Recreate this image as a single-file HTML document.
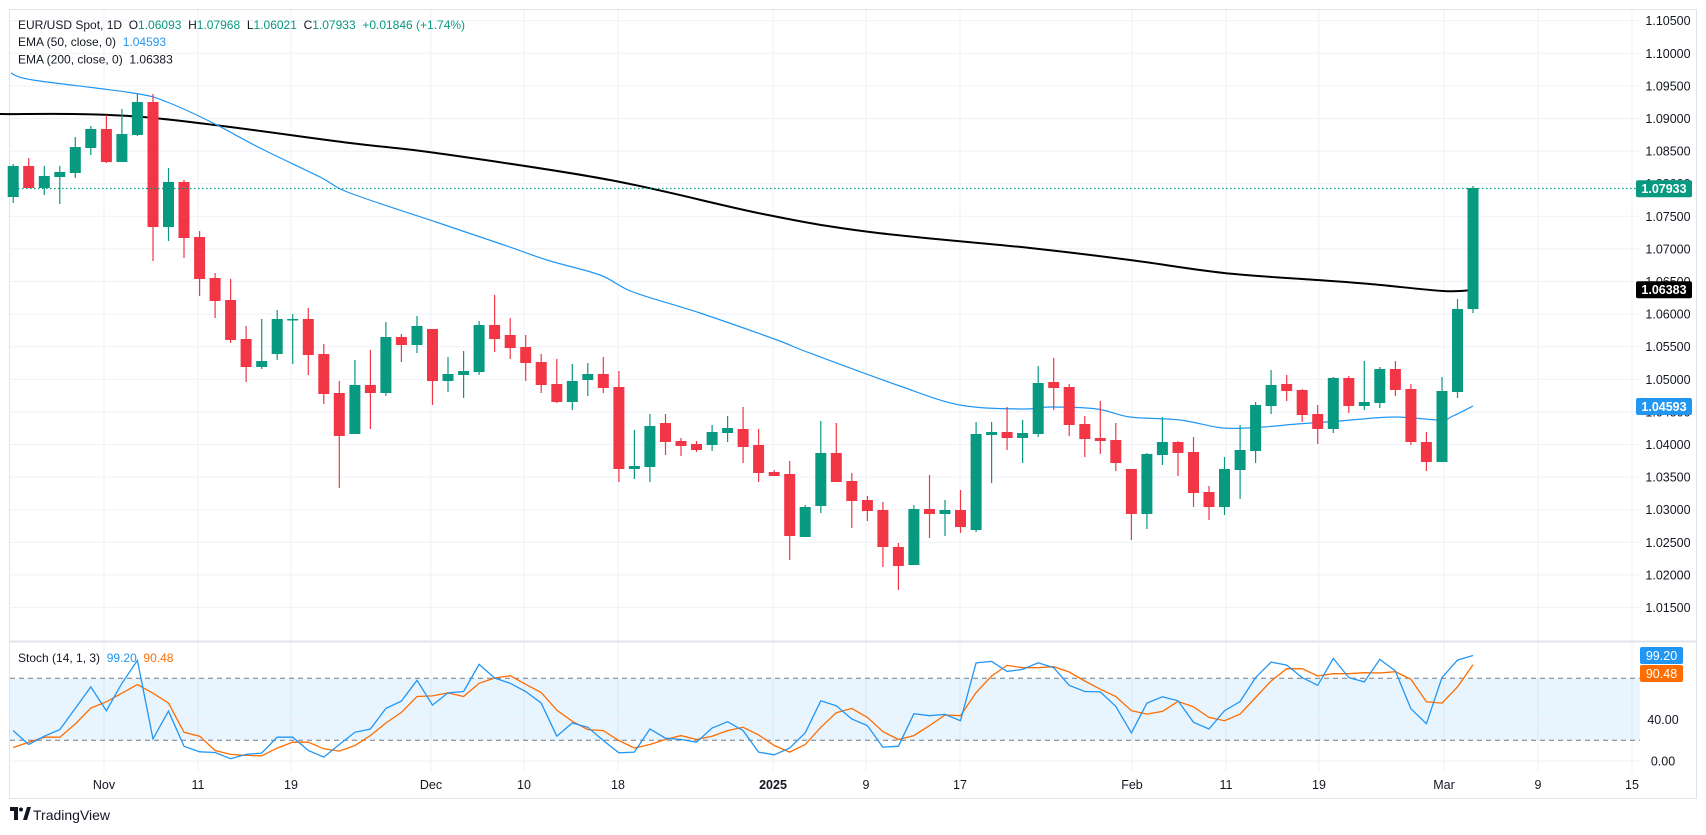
<!DOCTYPE html>
<html><head><meta charset="utf-8">
<style>
html,body{margin:0;padding:0;background:#fff;}
svg{display:block;font-family:"Liberation Sans",sans-serif;}
</style></head>
<body>
<svg id="c" width="1706" height="835" xmlns="http://www.w3.org/2000/svg"></svg>
<script>
const S=document.getElementById('c');
let h='';
const PL=10, PR=1640;
function yp(p){return 379.3+(1.05-p)*6520;}
function smooth(pts){let d=`M${pts[0][0]},${pts[0][1]}`;for(let i=0;i<pts.length-1;i++){const p0=pts[i-1]||pts[i],p1=pts[i],p2=pts[i+1],p3=pts[i+2]||p2;
const c1=[p1[0]+(p2[0]-p0[0])/6,p1[1]+(p2[1]-p0[1])/6],c2=[p2[0]-(p3[0]-p1[0])/6,p2[1]-(p3[1]-p1[1])/6];
d+=` C${c1[0].toFixed(1)},${c1[1].toFixed(1)} ${c2[0].toFixed(1)},${c2[1].toFixed(1)} ${p2[0]},${p2[1]}`;}return d;}
h+=`<rect x="9.5" y="9.5" width="1687" height="789" fill="#fff" stroke="#e0e3eb"/>`;
for(let k=0;k<=19;k++){const p=1.105-k*0.005;const y=yp(p);if(y>640)continue;
h+=`<line x1="${PL}" x2="${PR}" y1="${y.toFixed(1)}" y2="${y.toFixed(1)}" stroke="#f0f3fa" stroke-width="1.2"/>`;
h+=`<text x="1668" y="${(y+4.5).toFixed(1)}" font-size="12.5" fill="#131722" text-anchor="middle">${p.toFixed(5)}</text>`;}
const dates=[[104,'Nov'],[198,'11'],[291,'19'],[431,'Dec'],[524,'10'],[618,'18'],[773,'2025'],[866,'9'],[960,'17'],[1132,'Feb'],[1226,'11'],[1319,'19'],[1444,'Mar'],[1538,'9'],[1632,'15']];
dates.forEach(([x,t])=>{h+=`<line x1="${x}" x2="${x}" y1="10" y2="772" stroke="#f0f3fa" stroke-width="1.2"/>`;
h+=`<text x="${x}" y="789" font-size="12.5" fill="#131722" text-anchor="middle"${t=='2025'?' font-weight="bold"':''}>${t}</text>`;});
h+=`<line x1="10" x2="1696" y1="641.5" y2="641.5" stroke="#e0e3eb" stroke-width="2"/>`;
const e200=[[0,114],[143,117],[350,143],[436,153],[610,180],[763,214],[870,232],[1030,248],[1130,260],[1224,273],[1317,280],[1370,284],[1443,291],[1473,290]];
h+=`<path d="${smooth(e200)}" fill="none" stroke="#000" stroke-width="2"/>`;
const e50=[[11,73],[33,80],[133,93],[167,102],[213,123],[260,148],[320,177],[350,193],[436,222],[501,244],[547,260],[600,275],[633,292],[700,313],[777,340],[807,352],[897,385],[960,405],[1023,409],[1050,407],[1097,409],[1130,417],[1180,420],[1223,428],[1263,427],[1297,424],[1340,421],[1393,417],[1440,420],[1453,416],[1473,406]];
h+=`<path d="${smooth(e50)}" fill="none" stroke="#2196f3" stroke-width="1.2"/>`;
const C=`g 166,197,164,203
r 166,188,158,188
g 176,188,166,195
g 172,177,166,204
g 147,173,137,178
g 129,148,126,155
r 129,162,115,163
g 134,162,109,162
g 102,135,94,136
r 102,227,94,261
g 182,227,168,241
r 182,238,180,258
r 237,279,231,296
r 278,301,273,318
r 300,340,279,343
r 339,367,326,382
g 361,367,319,369
g 319,354,310,360
g 319,320,314,364
r 319,355,308,375
r 354,394,344,404
r 393,436,381,488
g 385,434,360,434
r 385,393,350,429
g 337,393,322,396
r 337,345,334,362
g 326,345,316,353
r 329,381,329,405
g 374,381,357,392
g 371,375,351,398
g 325,372,321,375
r 325,339,295,352
r 335,348,318,359
r 347,363,335,381
r 362,385,354,393
r 384,402,359,403
g 381,402,364,410
g 374,380,363,396
r 374,388,357,393
r 387,469,371,482
g 466,469,430,479
g 426,467,414,482
r 423,442,414,455
r 441,446,438,456
r 444,450,441,452
g 432,445,425,451
g 428,433,416,442
r 429,447,407,463
r 445,473,429,482
r 472,476,470,476
r 474,536,461,560
g 507,537,505,537
g 453,506,421,513
r 453,482,423,482
r 481,501,473,528
r 500,511,496,521
r 510,547,502,567
r 547,566,543,590
g 509,565,505,565
r 509,514,475,538
g 510,514,500,536
r 510,527,490,533
g 434,530,422,532
g 432,435,422,483
r 432,438,407,450
g 433,438,420,463
g 383,434,366,437
r 382,388,358,410
r 387,425,384,436
r 424,439,416,457
r 438,441,401,454
r 440,463,423,471
r 469,514,469,540
g 454,514,453,529
g 442,455,417,465
r 442,453,441,476
r 452,493,437,507
r 492,507,486,520
g 469,507,457,515
g 450,470,425,499
g 405,451,402,463
g 385,406,370,414
r 384,391,375,401
r 390,415,389,422
r 414,429,405,444
g 378,429,377,433
r 378,406,376,413
g 402,406,361,410
g 369,403,367,408
r 369,390,361,396
r 389,442,384,445
r 442,462,432,471
g 391,462,377,462
g 309,392,299,398
g 188,309,186,313`.split('\n');
function X(i){return 13.2+i*15.53;}
C.forEach((l,i)=>{const c=l[0]=='g'?'#089981':'#f23645';const [t,b,wt,wb]=l.slice(2).split(',').map(Number);const x=X(i);
h+=`<line x1="${x.toFixed(1)}" x2="${x.toFixed(1)}" y1="${wt}" y2="${wb}" stroke="${c}" stroke-width="1.2"/>`;
h+=`<rect x="${(x-5.5).toFixed(1)}" y="${t}" width="11" height="${Math.max(1.5,b-t)}" fill="${c}"/>`;});
h+=`<line x1="10" x2="1636" y1="188.5" y2="188.5" stroke="#089981" stroke-width="1.2" stroke-dasharray="1.5,2.5"/>`;
function lab(y,bg,t,w){h+=`<rect x="1636" y="${y-8.5}" width="${w||56}" height="17" rx="2" fill="${bg}"/><text x="1664" y="${y+4.5}" font-size="12.5" font-weight="bold" fill="#fff" text-anchor="middle">${t}</text>`;}
lab(188.7,'#089981','1.07933');lab(289.7,'#000','1.06383');lab(406.5,'#2196f3','1.04593');
function ys(v){return 761-v*1.035;}
h+=`<rect x="10" y="${ys(80)}" width="1630" height="${ys(20)-ys(80)}" fill="#2196f3" fill-opacity="0.1"/>`;
[0,40].forEach(v=>{h+=`<line x1="10" x2="1640" y1="${ys(v)}" y2="${ys(v)}" stroke="#f0f3fa" stroke-width="1.2"/>`;
h+=`<text x="1663" y="${ys(v)+4.5}" font-size="12.5" fill="#131722" text-anchor="middle">${v.toFixed(2)}</text>`;});
[80,20].forEach(v=>{h+=`<line x1="10" x2="1640" y1="${ys(v)}" y2="${ys(v)}" stroke="#787b86" stroke-width="1" stroke-dasharray="5,4"/>`;});
const K=[455,497,472,452,388,323,395,312,243,480,396,502,519,521,540,527,523,475,475,515,535,497,460,450,388,366,303,378,341,337,255,296,312,337,372,472,432,445,485,522,520,450,478,482,490,447,428,455,520,528,508,462,365,380,
420,440,505,502,404,410,406,425,250,246,276,270,250,265,318,337,338,382,462,372,353,365,430,450,395,367,295,248,257,295,318,237,295,308,240,275,389,434,295,242,228];
const D=[506,490,475,475,435,387,368,342,316,342,372,460,472,515,527,530,531,508,490,490,510,517,500,470,432,400,352,350,341,352,312,296,289,315,340,393,427,452,455,485,508,497,482,470,482,472,455,445,468,500,520,497,445,401,
388,415,458,482,470,440,408,410,340,290,258,265,265,262,278,305,330,352,395,405,397,367,383,415,425,405,355,305,268,268,290,283,283,280,281,277,300,368,372,323,256];
function pl(a,c){return `<polyline points="${a.map((z,i)=>X(i).toFixed(1)+','+(580+z*0.331).toFixed(1)).join(' ')}" fill="none" stroke="${c}" stroke-width="1.3"/>`;}
h+=pl(D,'#ff6d00');h+=pl(K,'#2196f3');
h+=`<rect x="1640" y="647" width="43" height="17" rx="2" fill="#2196f3"/><text x="1661.5" y="660" font-size="12.5" fill="#fff" text-anchor="middle">99.20</text>`;
h+=`<rect x="1640" y="665" width="43" height="17" rx="2" fill="#ff6d00"/><text x="1661.5" y="678" font-size="12.5" fill="#fff" text-anchor="middle">90.48</text>`;
h+=`<text x="18" y="662" font-size="12" fill="#131722" xml:space="preserve">Stoch (14, 1, 3)  <tspan fill="#2196f3">99.20</tspan>  <tspan fill="#ff6d00">90.48</tspan></text>`;
h+=`<text x="18" y="29" font-size="12" fill="#131722" xml:space="preserve">EUR/USD Spot, 1D  O<tspan fill="#089981">1.06093</tspan>  H<tspan fill="#089981">1.07968</tspan>  L<tspan fill="#089981">1.06021</tspan>  C<tspan fill="#089981">1.07933</tspan>  <tspan fill="#089981">+0.01846 (+1.74%)</tspan></text>`;
h+=`<text x="18" y="46" font-size="12" fill="#131722" xml:space="preserve">EMA (50, close, 0)  <tspan fill="#2196f3">1.04593</tspan></text>`;
h+=`<text x="18" y="63.5" font-size="12" fill="#131722" xml:space="preserve">EMA (200, close, 0)  1.06383</text>`;
h+=`<path d="M10 807h8v13h-4v-9h-4z" fill="#131722"/><circle cx="21" cy="809.5" r="2" fill="#131722"/><path d="M23 820l4-13h4l-4 13z" fill="#131722"/>`;
h+=`<text x="33" y="820" font-size="14" fill="#131722">TradingView</text>`;
S.innerHTML=h;
</script>
</body></html>
